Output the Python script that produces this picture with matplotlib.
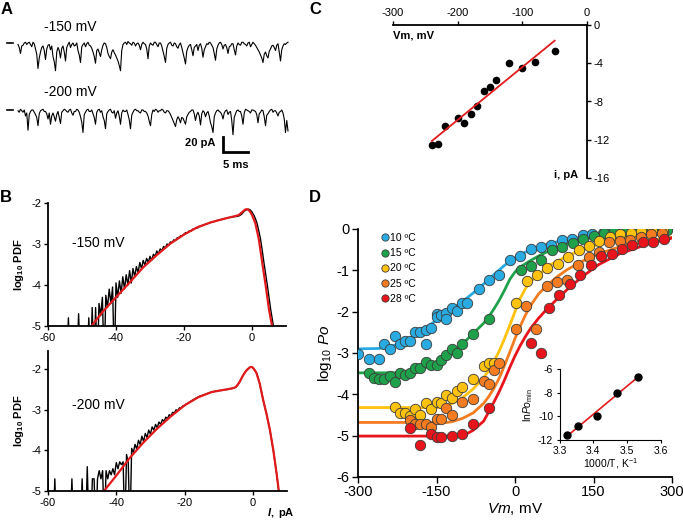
import numpy as np
import matplotlib.pyplot as plt

plt.rcParams['font.family'] = ['Liberation Sans', 'DejaVu Sans']
plt.rcParams['axes.unicode_minus'] = False
plt.rcParams['mathtext.fontset'] = 'custom'
plt.rcParams['mathtext.rm'] = 'Liberation Sans'
plt.rcParams['mathtext.it'] = 'Liberation Sans:italic'
plt.rcParams['mathtext.bf'] = 'Liberation Sans:bold'
plt.rcParams['mathtext.bfit'] = 'Liberation Sans:italic:bold'

# ---- A: single channel traces (pA, sampled every 0.25 ms) ----
trace_150 = [-2, -6, -14, -4, -3, 0, 1, -2, 0, 1, -2, -5, 1, -1, -8, -15, -34, -20, -12, -6,
             -4, -10, -22, -8, -3, -2, -9, -4, -18, -25, -37, -12, -6, -10, -20, -7, -4, -12, -24, -6,
             -2, 1, -6, -2, 0, -4, -3, 0, -10, -16, -26, -5, -2, 0, -5, -1, 1, -3, -4, -7,
             -12, -18, -27, -10, -8, -13, -18, -9, -3, 0, -1, -6, -14, -18, -21, -12, -9, -13, -16, -20,
             -24, -30, -37, -10, -2, 0, 1, -2, 2, 0, -1, -3, 1, 0, -4, -1, 0, -3, -9, -2,
             1, -1, -2, -8, -21, -4, 0, -2, -3, 1, 1, -2, -5, 0, 0, -4, -11, -18, -26, -7,
             -2, 0, 1, -3, -4, 0, -1, -5, -7, -2, 0, -6, -13, -20, -28, -11, -6, -3, -2, -9,
             -17, -6, -4, -2, -10, -3, -1, -7, -19, -9, -5, -1, -2, 1, 0, -3, -6, -14, -23, -8,
             -3, 0, 1, -2, -8, -3, -2, -6, -14, -5, -4, -1, -1, -9, -16, -4, 0, -2, -3, 1,
             1, -1, -2, -4, 0, 1, -5, -2, 1, -1, -3, -6, -9, -12, -16, -20, -26, -15, -12, -17,
             -20, -11, -8, -4, -3, -6, -10, -3, -1, -12, -24, -9, -4, -1, -2, 0, 1]
trace_200 = [-1, -3, 1, -1, -3, 0, -8, -4, -27, -6, -2, 0, 0, -3, -6, -10, -21, -5, -1, 0,
             1, -2, -2, -5, -12, -4, -19, -8, -4, -9, -15, -6, -2, -10, -18, -3, -1, 1, 0, -2,
             -3, 0, 1, -4, -7, -2, -2, 1, 0, -3, -9, -16, -30, -6, -3, 0, 1, -2, -2, 0,
             -5, -10, -19, -3, 0, 1, -3, -1, -9, -14, -25, -5, -2, 0, 1, -3, -4, -1, -11, -4,
             -1, -8, -19, -4, 0, -2, -2, 0, -6, -13, -25, -7, -3, 0, 1, -1, -1, -3, -4, 0,
             0, -2, -2, -4, -8, -15, -21, -6, 0, -2, 1, 0, -3, -1, -1, 1, 0, -3, -4, -1,
             -1, -3, -6, -10, -14, -18, -22, -13, -9, -12, -17, -10, -11, -15, -19, -9, -6, -3, -2, 0,
             0, -5, -14, -6, -3, -8, -20, -5, -1, -3, -9, -4, -2, -8, -17, -22, -30, -9, -4, -1,
             0, -2, -3, -6, -12, -4, -1, 0, -6, -3, -2, -14, -33, -10, -5, -1, 0, -2, -2, -8,
             -19, -4, 1, 0, -1, -2, -4, 0, 0, -1, -2, -6, -17, -5, -3, 0, -1, -9, -21, -7,
             -5, -2, 0, 1, -3, -1, -1, -4, -8, -3, -2, 0, -4, -12, -30, -14, -28]

# ---- B: all-point histograms, log10 PDF in 0.5 pA bins starting at -60 pA ----
pdf150 = [-6, -6, -6, -6, -6, -6, -6, -6, -6, -6, -6, -6, -4.8, -6, -6, -6, -6, -6, -4.7, -6,
          -6, -6, -6, -6, -4.8, -6, -4.55, -6,
          -4.55, -6, -4.45, -4.75, -4.3, -6, -4.25, -4.55, -4.1, -4.45, -4.05, -6, -3.95, -4.3, -3.9, -4.2,
          -3.8, -4.1, -3.75, -4.0, -3.65, -3.95, -3.6, -3.8, -3.55, -3.7, -3.45, -3.6, -3.4, -3.52, -3.35, -3.45,
          -3.3, -3.4, -3.25, -3.3, -3.17, -3.24, -3.12, -3.16, -3.06, -3.1, -3.0, -3.03, -2.95, -2.96, -2.9, -2.91,
          -2.85, -2.84, -2.8, -2.8, -2.76,
          -2.72, -2.73, -2.68, -2.69, -2.64, -2.64, -2.6, -2.61, -2.57, -2.57, -2.54, -2.53, -2.51, -2.5, -2.48, -2.47,
          -2.46, -2.45, -2.43, -2.42, -2.41, -2.4, -2.39, -2.38, -2.37, -2.36, -2.35, -2.35, -2.34, -2.33, -2.33, -2.32,
          -2.3, -2.27, -2.22, -2.18, -2.16, -2.15, -2.17, -2.22, -2.29, -2.38, -2.5, -2.68, -2.88, -3.15, -3.45, -3.72,
          -4.0, -4.3, -4.6, -4.85, -5.1, -6]
fit150_i = [-47.2, -44, -40, -36, -32, -28, -24, -20, -16, -12, -8, -6, -4, -3, -2, -1.5, -1, -0.5, 0, 1, 2, 3, 4, 5, 5.9]
fit150_p = [-5, -4.66, -4.3, -3.94, -3.57, -3.27, -2.99, -2.77, -2.59, -2.47, -2.38, -2.34, -2.3, -2.23, -2.16, -2.15,
            -2.17, -2.22, -2.29, -2.5, -2.88, -3.45, -4.0, -4.6, -5.0]

pdf200 = [-4.7, -6, -6, -6, -4.7, -6, -6, -6, -6, -6, -6, -6, -6, -6, -4.7, -6, -6, -6, -6, -6,
          -4.7, -6, -6, -4.4, -6, -6, -4.7, -4.7, -6,
          -4.7, -4.5, -4.7, -4.5, -6, -4.5, -4.7, -4.5, -4.6, -4.45, -4.6, -4.3, -4.45, -4.28, -4.35, -4.28,
          -6, -4.1, -4.3, -6, -3.95, -4.05, -3.85, -3.97, -3.75, -3.85, -3.65, -3.78, -3.58, -3.68, -3.5, -3.6,
          -3.42, -3.5, -3.36, -3.44, -3.3, -3.36, -3.24, -3.29, -3.18, -3.22, -3.12, -3.15, -3.06, -3.08, -3.0, -3.02,
          -2.95, -2.96, -2.9, -2.9,
          -2.85, -2.84, -2.8, -2.78, -2.75, -2.73, -2.7, -2.69, -2.66, -2.65, -2.63, -2.62, -2.6, -2.59, -2.57, -2.56,
          -2.55, -2.54, -2.53, -2.53, -2.52, -2.52, -2.51, -2.5, -2.5, -2.49, -2.48, -2.47, -2.46, -2.44, -2.4, -2.33,
          -2.25, -2.17, -2.1, -2.04, -1.99, -1.96, -1.94, -1.96, -2.01, -2.08, -2.2, -2.35, -2.55, -2.75, -2.92, -3.1,
          -3.3, -3.5, -3.75, -4.0, -4.3, -4.6, -4.95, -6]
fit200_i = [-43.6, -40, -36, -32, -28, -24, -20, -16, -12, -8, -6, -5, -4, -3, -2, -1, -0.5, 0, 1, 2, 3, 4, 5, 6, 7, 7.6]
fit200_p = [-5, -4.62, -4.18, -3.8, -3.46, -3.16, -2.89, -2.69, -2.56, -2.5, -2.47, -2.44, -2.33, -2.17, -2.04, -1.96,
            -1.94, -1.96, -2.08, -2.35, -2.75, -3.1, -3.5, -4.0, -4.6, -5.0]

# ---- C: unitary current vs voltage ----
c_vm = [-240, -230, -220, -200, -190, -180, -170, -160, -150, -140, -120, -100, -80, -50]
c_i = [-12.5, -12.4, -10.6, -9.75, -10.2, -9.3, -8.46, -6.93, -6.48, -5.75, -3.94, -4.53, -3.87, -2.75]

# ---- D: log10 Po vs Vm at five temperatures ----
temps = ['10 ºC', '15 ºC', '20 ºC', '25 ºC', '28 ºC']
colors = ['#29ABE2', '#1FA04A', '#FFC20E', '#F47B20', '#E8141B']
vm_10 = [-300, -279, -259, -250, -239, -229, -220, -210, -200, -191, -181, -171, -171, -160, -150, -150, -141, -131, -131,
         -120, -111, -101, -91, -69, -50, -30, -10, 10, 30, 50, 69, 89, 109, 129, 148, 168, 188, 208]
po_10 = [-3.03, -3.15, -3.15, -2.79, -2.91, -2.58, -2.79, -2.72, -2.72, -2.48, -2.48, -2.45, -2.78, -2.40, -2.06, -2.12,
         -2.07, -2.04, -2.18, -1.90, -1.98, -1.78, -1.78, -1.45, -1.23, -1.11, -0.75, -0.66, -0.49, -0.44, -0.38, -0.27,
         -0.23, -0.14, -0.12, -0.09, -0.06, -0.03]
vm_15 = [-279, -270, -259, -250, -239, -229, -220, -210, -200, -191, -181, -171, -161, -150, -141, -131, -120, -111, -101,
         -80, -50, 11, 31, 50, 70, 90, 110, 130, 150, 170, 189, 209, 229, 249, 269, 290]
po_15 = [-3.48, -3.60, -3.64, -3.64, -3.56, -3.70, -3.48, -3.54, -3.48, -3.36, -3.36, -3.22, -3.29, -3.29, -3.17, -3.04,
         -2.91, -2.99, -2.78, -2.53, -2.18, -0.99, -0.90, -0.75, -0.52, -0.44, -0.33, -0.23, -0.17, -0.10, -0.06, -0.04,
         -0.03, -0.03, -0.02, -0.02]
vm_20 = [-229, -220, -210, -200, -191, -181, -171, -161, -150, -141, -131, -120, -111, -101, -80, -60, -50, -40, 1, 22,
         42, 62, 82, 102, 122, 141, 161, 182, 201, 222, 241, 262, 282]
po_20 = [-4.30, -4.46, -4.46, -4.52, -4.35, -4.51, -4.22, -4.36, -4.18, -4.22, -4.02, -4.08, -3.92, -3.82, -3.62, -3.32,
         -3.25, -3.23, -1.79, -1.27, -1.11, -0.94, -0.85, -0.67, -0.52, -0.41, -0.28, -0.19, -0.12, -0.10, -0.06, -0.04, -0.04]
vm_25 = [-200, -191, -181, -171, -161, -150, -141, -131, -120, -101, -80, -60, -50, -40, -30, 1, 21, 41, 61, 80,
         100, 120, 141, 161, 180, 200, 220, 240, 260, 281]
po_25 = [-4.61, -4.71, -4.72, -4.72, -4.79, -4.59, -4.59, -4.34, -4.50, -4.18, -4.12, -3.67, -3.75, -3.41, -3.25, -2.43,
         -1.87, -2.43, -1.38, -1.28, -1.23, -0.87, -0.67, -0.55, -0.31, -0.29, -0.27, -0.19, -0.12, -0.10]
vm_28 = [-200, -181, -161, -150, -141, -120, -101, -80, -50, 30, 49, 65, 85, 105, 125, 145, 165, 185, 204, 224, 244, 264, 284]
po_28 = [-4.81, -5.23, -4.97, -5.04, -5.04, -5.01, -4.97, -4.72, -4.33, -2.75, -2.99, -1.90, -1.60, -1.34, -1.12, -0.86,
         -0.65, -0.61, -0.49, -0.39, -0.31, -0.31, -0.23]

fit_vm_10 = [-300, -260, -240, -220, -200, -180, -160, -140, -120, -100, -80, -60, -40, -20, 0, 20, 40, 60, 80, 100, 130, 160, 200, 250, 300]
fit_po_10 = [-2.9, -2.89, -2.85, -2.77, -2.65, -2.5, -2.3, -2.1, -1.93, -1.75, -1.55, -1.33, -1.1, -0.88, -0.7, -0.56,
             -0.46, -0.38, -0.31, -0.26, -0.19, -0.13, -0.08, -0.04, -0.02]
fit_vm_15 = [-300, -220, -200, -180, -160, -140, -120, -100, -80, -60, -50, -40, -30, -20, -10, 0, 10, 30, 50, 70, 100, 130, 160, 200, 250, 300]
fit_po_15 = [-3.48, -3.48, -3.45, -3.4, -3.3, -3.15, -2.97, -2.78, -2.53, -2.28, -2.12, -1.93, -1.72, -1.48, -1.22, -1.04,
             -0.92, -0.76, -0.62, -0.5, -0.36, -0.25, -0.17, -0.1, -0.05, -0.03]
fit_vm_20 = [-300, -150, -140, -120, -100, -80, -60, -50, -40, -30, -20, -10, 0, 10, 20, 30, 50, 70, 100, 130, 160, 200, 250, 300]
fit_po_20 = [-4.32, -4.32, -4.3, -4.22, -4.08, -3.87, -3.6, -3.42, -3.2, -2.95, -2.65, -2.33, -2.0, -1.68, -1.44, -1.27,
             -1.05, -0.85, -0.65, -0.49, -0.37, -0.24, -0.15, -0.1]
fit_vm_25 = [-300, -130, -120, -100, -80, -60, -50, -40, -30, -20, -10, 0, 10, 20, 30, 45, 60, 80, 100, 130, 160, 200, 250, 300]
fit_po_25 = [-4.68, -4.68, -4.66, -4.58, -4.45, -4.22, -4.05, -3.85, -3.6, -3.3, -2.98, -2.65, -2.35, -2.08, -1.85, -1.57,
             -1.38, -1.16, -0.98, -0.77, -0.6, -0.43, -0.29, -0.2]
fit_vm_28 = [-300, -110, -100, -90, -80, -60, -50, -40, -30, -20, -10, 0, 10, 20, 30, 45, 60, 80, 100, 130, 160, 200, 250, 300]
fit_po_28 = [-5.01, -5.01, -4.98, -4.94, -4.87, -4.65, -4.42, -4.18, -3.93, -3.65, -3.35, -3.07, -2.82, -2.6, -2.4, -2.16,
             -1.95, -1.7, -1.46, -1.14, -0.86, -0.6, -0.38, -0.22]

# inset: ln Po_min vs 1000/T
inv_t = [3.532, 3.470, 3.411, 3.354, 3.321]
ln_pomin = [-6.65, -8.0, -10.0, -10.82, -11.6]

W, H = 683, 521
fig = plt.figure(figsize=(W / 100, H / 100), dpi=100)


def box(l, t, r, b):
    return fig.add_axes([l / W, 1 - b / H, (r - l) / W, (b - t) / H])


def ptext(x, y, s, **kw):
    fig.text(x / W, 1 - y / H, s, **kw)


for x, y, s in [(7, 9, 'A'), (6, 197, 'B'), (315, 9, 'C'), (315, 198, 'D')]:
    ptext(x, y, s, fontsize=12, fontweight='bold', ha='center', va='center')

# ---- A ----
axA = box(0, 0, 300, 170)
axA.axis('off')
axA.set_xlim(-3.6, 56.4)
axA.set_ylim(-169.3, 57.3)
off2 = -89.3
axA.plot(np.arange(len(trace_150)) * 0.25, trace_150, color='k', lw=0.8)
axA.plot(np.arange(len(trace_200)) * 0.25, np.array(trace_200) + off2, color='k', lw=0.8)
for lev in (0, off2):
    axA.plot([-2.2, -1.0], [lev, lev], color='k', lw=1.2)
axA.text(5.2, 21.3, '-150 mV', fontsize=10, va='center')
axA.text(5.2, -65.3, '-200 mV', fontsize=10, va='center')
axA.plot([41, 41, 46], [-125.3, -145.3, -145.3], color='k', lw=2, solid_joinstyle='miter')
axA.text(39.4, -133, '20 pA', fontsize=8, fontweight='bold', ha='right', va='center')
axA.text(43.5, -162.5, '5 ms', fontsize=8, fontweight='bold', ha='center', va='center')


# ---- B ----
def pdf_panel(ax, vals, fi, fp, ylim, label):
    xs = -60 + np.arange(len(vals)) * 0.5
    ax.plot(xs, vals, color='k', lw=1.0)
    ax.plot(fi, fp, color='#E31A1C', lw=1.6)
    ax.set_xlim(-60, 10)
    ax.set_ylim(*ylim)
    ax.set_xticks([-60, -40, -20, 0])
    ax.set_yticks([-2, -3, -4, -5])
    for s in ('top', 'right'):
        ax.spines[s].set_visible(False)
    ax.spines['left'].set_linewidth(1.3)
    ax.spines['bottom'].set_linewidth(1.3)
    ax.tick_params(labelsize=8, length=3, width=1, pad=2)
    ax.set_ylabel(r'$\mathbf{log_{10}\ PDF}$', fontsize=8, labelpad=4)
    ax.text(-53, label[1], label[0], fontsize=10, va='center')


axB1 = box(48, 203, 286, 326)
pdf_panel(axB1, pdf150, fit150_i, fit150_p, (-5, -2), ('-150 mV', -2.98))
axB2 = box(48, 351, 287, 491)
pdf_panel(axB2, pdf200, fit200_i, fit200_p, (-5, -1.55), ('-200 mV', -2.89))
ptext(281, 513, r'$\mathbfit{I}$$\mathbf{,\ pA}$', fontsize=8, ha='center', va='center')

# ---- C ----
axC = box(393, 25, 587, 178)
axC.plot(c_vm, c_i, 'o', color='k', ms=4.5)
gfit = np.polyfit(c_vm, c_i, 1)
vline = np.array([min(c_vm), max(c_vm)])
axC.plot(vline, np.polyval(gfit, vline), color='#E31A1C', lw=1.3)
axC.set_xlim(-300, 0)
axC.set_ylim(-16, 0)
axC.spines['left'].set_visible(False)
axC.spines['bottom'].set_visible(False)
axC.spines['top'].set_linewidth(1.3)
axC.spines['right'].set_linewidth(1.3)
axC.xaxis.tick_top()
axC.yaxis.tick_right()
axC.set_xticks([-300, -200, -100, 0])
axC.set_yticks([0, -4, -8, -12, -16])
axC.tick_params(labelsize=8, length=3, width=1, pad=2)
ptext(393, 35, 'Vm, mV', fontsize=8, fontweight='bold', ha='left', va='center')
ptext(578, 175, 'i, pA', fontsize=8, fontweight='bold', ha='right', va='center')

# ---- D ----
axD = box(358, 229, 672, 477)
series = [(vm_10, po_10, fit_vm_10, fit_po_10), (vm_15, po_15, fit_vm_15, fit_po_15),
          (vm_20, po_20, fit_vm_20, fit_po_20), (vm_25, po_25, fit_vm_25, fit_po_25),
          (vm_28, po_28, fit_vm_28, fit_po_28)]
handles = []
for (vm, po, fv, fp), col in zip(series, colors):
    axD.plot(fv, fp, color=col, lw=2, zorder=2)
for (vm, po, fv, fp), col, lab in zip(series, colors, temps):
    h, = axD.plot(vm, po, 'o', color=col, ms=7.5, mec='#3a3a3a', mew=0.6, label=lab, zorder=3)
    handles.append(h)
axD.set_xlim(-300, 300)
axD.set_ylim(-6, 0)
axD.set_xticks([-300, -150, 0, 150, 300])
axD.set_yticks([0, -1, -2, -3, -4, -5, -6])
for s in ('top', 'right'):
    axD.spines[s].set_visible(False)
axD.spines['left'].set_linewidth(1.3)
axD.spines['bottom'].set_linewidth(1.3)
axD.tick_params(labelsize=10.5, length=4, width=1, pad=2)
axD.set_xlabel(r'$\it{Vm}$, mV', fontsize=11, labelpad=1)
axD.set_ylabel(r'log$_{10}$ $\it{Po}$', fontsize=11, labelpad=2)
fig.legend(handles=handles, loc='upper left', bbox_to_anchor=(382 / W, 1 - 233 / H),
           frameon=False, fontsize=7.5, markerscale=0.7, handlelength=0.6, handletextpad=0.2,
           labelspacing=0.5, borderpad=0, borderaxespad=0)

# inset
axI = box(559.5, 369, 660.7, 440)
axI.set_facecolor('none')
axI.plot(inv_t, ln_pomin, 'o', color='k', ms=5, zorder=3)
ifit = np.polyfit(inv_t, ln_pomin, 1)
tline = np.array([min(inv_t), max(inv_t)])
axI.plot(tline, np.polyval(ifit, tline), color='#E31A1C', lw=1.2)
axI.set_xlim(3.3, 3.6)
axI.set_ylim(-12, -6)
axI.set_xticks([3.3, 3.4, 3.5, 3.6])
axI.set_yticks([-6, -8, -10, -12])
for s in ('top', 'right'):
    axI.spines[s].set_visible(False)
axI.tick_params(labelsize=7.5, length=2.5, width=0.8, pad=2)
axI.set_xlabel('1000/T, K$^{-1}$', fontsize=7.5, labelpad=0)
axI.set_ylabel(r'ln$\it{Po}$$_{\rm min}$', fontsize=7.5, labelpad=2)

fig.savefig('out.png', dpi=100)
